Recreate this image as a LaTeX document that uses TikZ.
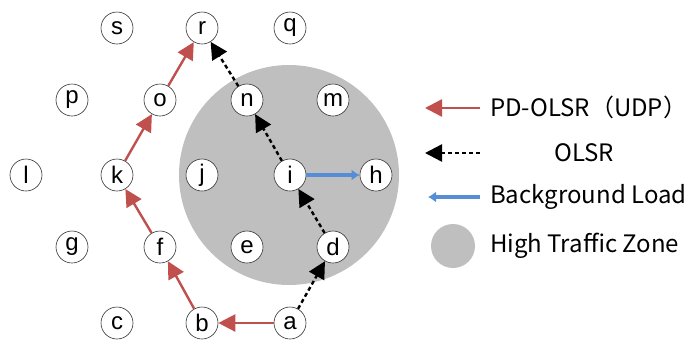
\documentclass[tikz,border=0pt]{standalone}
\usepackage{fontspec}
\setmainfont{Liberation Sans}
\newfontfamily\jpfont{Noto Sans CJK JP}
\usetikzlibrary{arrows.meta}
\definecolor{redc}{RGB}{192,80,77}
\definecolor{bluec}{RGB}{85,142,213}
\definecolor{zonec}{RGB}{191,191,191}
\tikzset{
  nd/.style={circle,draw=black!80,line width=0.6pt,fill=white,minimum size=32pt,inner sep=0pt,font=\fontsize{24}{24}\selectfont},
  pd/.style={draw=redc,line width=2.4pt,-{Triangle[length=17pt,width=17pt]},shorten >=0pt},
  ol/.style={draw=black,line width=2.4pt,dash pattern=on 4pt off 3pt,-{Triangle[length=17pt,width=17pt]}},
  bg/.style={draw=bluec,line width=4.5pt,-{Latex[length=8pt,width=11pt]}},
  lg/.style={anchor=west,inner sep=0pt,font=\jpfont\fontsize{24}{24}\selectfont}
}
\begin{document}
\begin{tikzpicture}[x=1pt,y=-1pt]
\useasboundingbox (0,0) rectangle (699,341);
\fill[zonec] (289,175) circle (110);
% nodes
\node[nd] (s) at (117,28) {s};
\node[nd] (r) at (202,28) {r};
\node[nd] (q) at (290,28) {q};
\node[nd] (p) at (72,100) {p};
\node[nd] (o) at (160,100) {o};
\node[nd] (n) at (247,100) {n};
\node[nd] (m) at (333,100) {m};
\node[nd] (l) at (26,175) {l};
\node[nd] (k) at (117,175) {k};
\node[nd] (j) at (202,175) {j};
\node[nd] (i) at (290,175) {i};
\node[nd] (h) at (376,175) {h};
\node[nd] (g) at (72,247) {g};
\node[nd] (f) at (160,247) {f};
\node[nd] (e) at (247,247) {e};
\node[nd] (d) at (333,247) {d};
\node[nd] (c) at (117,323) {c};
\node[nd] (b) at (202,323) {b};
\node[nd] (a) at (290,323) {a};
% PD-OLSR
\draw[pd] (a) -- (b);
\draw[pd] (b) -- (f);
\draw[pd] (f) -- (k);
\draw[pd] (k) -- (o);
\draw[pd] (o) -- (r);
% OLSR
\draw[ol] (a) -- (d);
\draw[ol] (d) -- (i);
\draw[ol] (i) -- (n);
\draw[ol] (n) -- (r);
% background
\draw[bg] (i) -- (h);
% legend
\coordinate (l1a) at (480,108); \coordinate (l1b) at (425,108);
\coordinate (l2a) at (480,153); \coordinate (l2b) at (425,153);
\coordinate (l3a) at (480,197); \coordinate (l3b) at (428,197);
\draw[pd] (l1a) -- (l1b);
\draw[ol] (l2a) -- (l2b);
\draw[bg] (l3a) -- (l3b);
\fill[zonec] (453,246) circle (22);
\node[lg] (t1) at (490,107) {PD-OLSR（UDP）};
\node[lg] (t2) at (554,153) {OLSR};
\node[lg] (t3) at (490,197) {Background Load};
\node[lg] (t4) at (490,246) {High Traffic Zone};
\end{tikzpicture}
\end{document}
